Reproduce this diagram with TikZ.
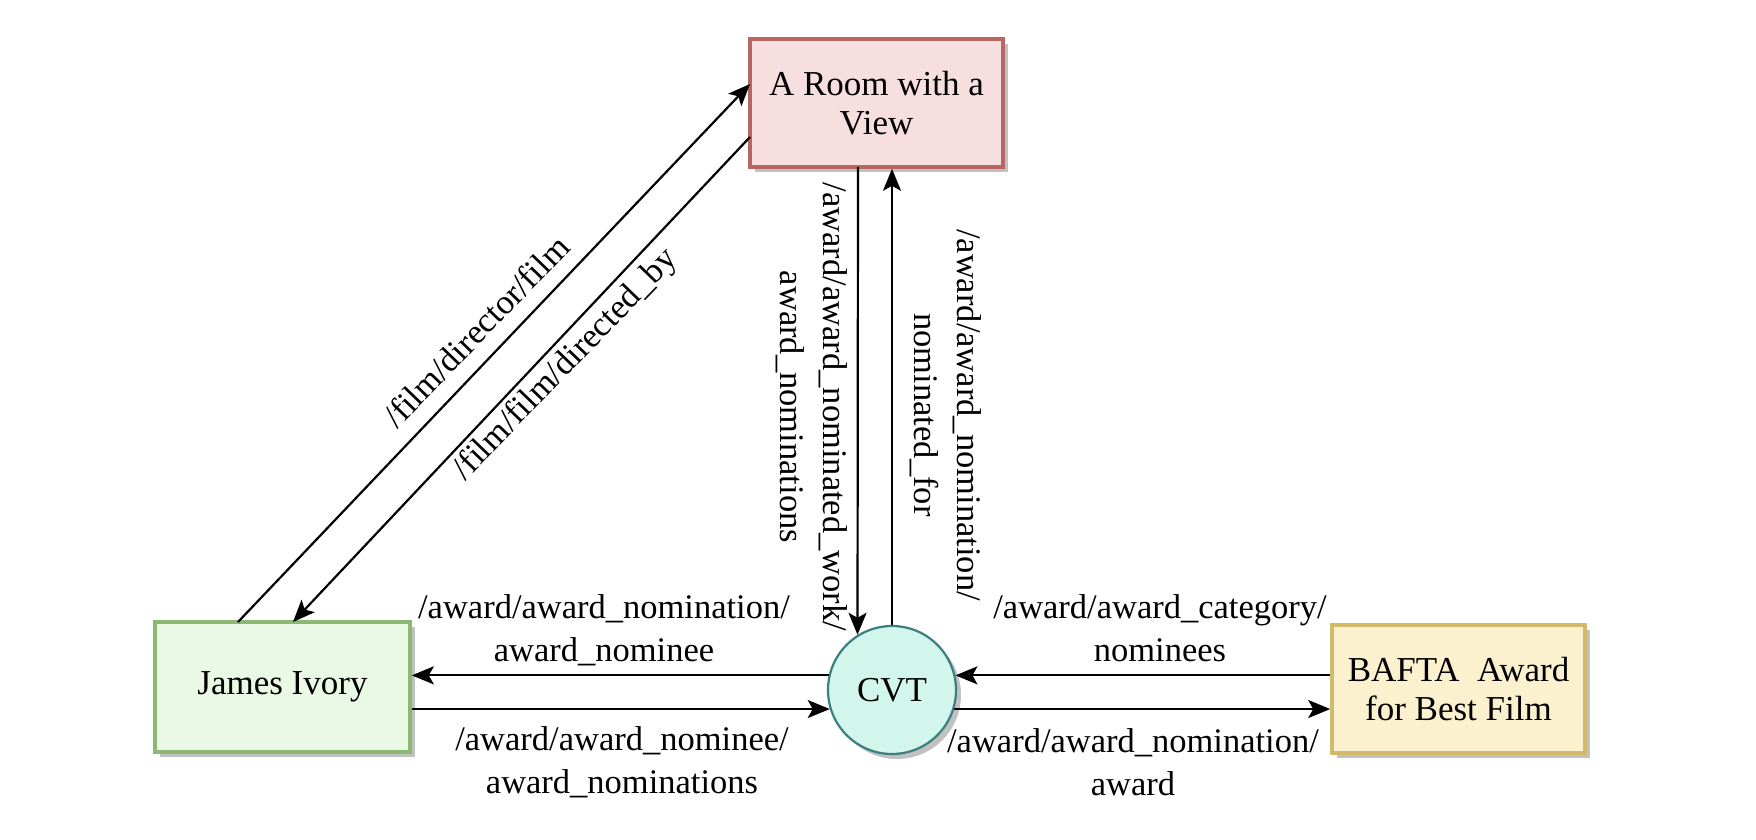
\documentclass[tikz,border=0pt]{standalone}
\usepackage{fontspec}
\setmainfont{Liberation Serif}
\usetikzlibrary{arrows.meta,shadows}
\definecolor{roomfill}{HTML}{F8DFDF}
\definecolor{roomdraw}{HTML}{B86662}
\definecolor{jamesfill}{HTML}{EAF9E6}
\definecolor{jamesdraw}{HTML}{8DB873}
\definecolor{cvtfill}{HTML}{D2F6EC}
\definecolor{cvtdraw}{HTML}{3B7F80}
\definecolor{baftafill}{HTML}{FCF1CE}
\definecolor{baftadraw}{HTML}{D3BA6A}
\begin{document}
\begin{tikzpicture}[x=0.5pt,y=-0.5pt,
  box/.style={rectangle, line width=1.8pt, minimum width=126.5pt, minimum height=64pt,
    align=center, inner sep=0pt, font=\fontsize{17.5}{19.5}\selectfont,
    drop shadow={shadow xshift=2.5pt, shadow yshift=-2.5pt, fill=black!30, opacity=0.8}},
  lbl/.style={font=\fontsize{17.25}{21.5}\selectfont, align=center, inner sep=0pt},
  arr/.style={line width=1.1pt, -{Stealth[length=11pt, width=9pt, inset=2.5pt]}}]
\useasboundingbox[fill=white] (0,0) rectangle (1756,840);

\node[box, fill=roomfill, draw=roomdraw] (room) at (876.5,103) {A Room with a\\View};
\node[box, fill=jamesfill, draw=jamesdraw, minimum width=127.5pt, minimum height=65pt] (james) at (282.5,687) {James Ivory};
\node[box, fill=baftafill, draw=baftadraw] (bafta) at (1458.5,689) {BAFTA~~Award\\for Best Film};
\node[circle, fill=cvtfill, draw=cvtdraw, line width=1.1pt, minimum size=64pt, inner sep=0pt,
  font=\fontsize{17.5}{19.5}\selectfont,
  drop shadow={shadow xshift=2.5pt, shadow yshift=-2.5pt, fill=black!30, opacity=0.8}] (cvt) at (892,690) {CVT};

% diagonal arrows
\coordinate (jt1) at (238,622);
\coordinate (rl1) at (750,84);
\coordinate (rl2) at (750,137);
\coordinate (jt2) at (293,622);
\draw[arr] (jt1) -- (rl1);
\draw[arr] (rl2) -- (jt2);

% vertical arrows
\coordinate (rb) at (858,167);
\draw[arr] (rb) -- (cvt.122);
\draw[arr] (cvt.north) -- (room.south -| cvt.north);

% horizontal arrows
\draw[arr] (cvt.167) -- (cvt.167 -| james.east);
\draw[arr] (james.east |- cvt.197) -- (cvt.197);
\draw[arr] (bafta.west |- cvt.13) -- (cvt.13);
\draw[arr] (cvt.-17) -- (cvt.-17 -| bafta.west);

% labels
\node[lbl, rotate=46] (l1) at (476,331) {/film/director/film};
\node[lbl, rotate=46] (l2) at (566,365) {/film/film/directed\_by};
\node[lbl, rotate=-90] (l3) at (812,407) {/award/award\_nominated\_work/\\award\_nominations};
\node[lbl, rotate=-90] (l4) at (946,415) {/award/award\_nomination/\\nominated\_for};
\node[lbl] (l5) at (604,630) {/award/award\_nomination/\\award\_nominee};
\node[lbl] (l6) at (622,762) {/award/award\_nominee/\\award\_nominations};
\node[lbl] (l7) at (1160,628) {/award/award\_category/\\nominees};
\node[lbl] (l8) at (1133,762) {/award/award\_nomination/\\award};
\end{tikzpicture}
\end{document}
